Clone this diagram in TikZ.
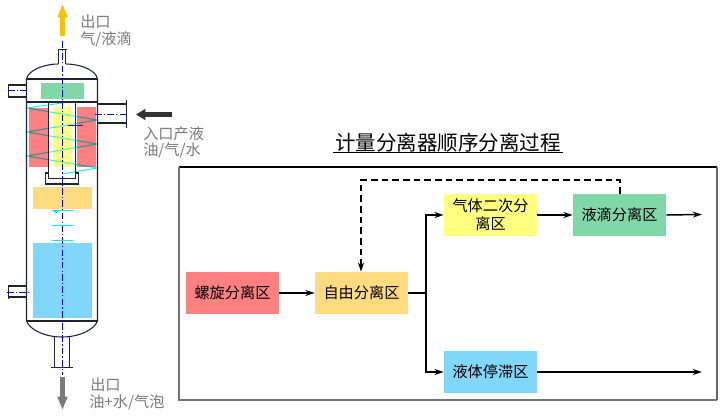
\documentclass[tikz,border=0pt]{standalone}
\usepackage{fontspec}
\setmainfont{Noto Sans CJK SC}
\usetikzlibrary{arrows.meta}
\definecolor{zred}{RGB}{255,128,128}
\definecolor{zorange}{RGB}{255,219,128}
\definecolor{zyellow}{RGB}{255,255,128}
\definecolor{zgreen}{RGB}{128,215,168}
\definecolor{zblue}{RGB}{128,215,250}
\definecolor{zwall}{RGB}{30,35,50}
\definecolor{zamber}{RGB}{255,190,0}
\definecolor{zcyan}{RGB}{0,240,250}
\definecolor{ztealgrey}{RGB}{95,130,135}
\definecolor{zlime}{RGB}{120,245,140}
\tikzset{
  zonebox/.style={minimum width=69.75pt,minimum height=31.5pt,inner sep=0pt,align=center,
    font=\fontsize{11.4pt}{13.5pt}\selectfont,text=black},
  flow/.style={line width=1.1pt,draw=black,-{Stealth[length=7pt,width=4.5pt]}},
  flowplain/.style={line width=1.2pt,draw=black},
  wall/.style={line width=0.8pt,draw=zwall},
  axis/.style={line width=0.6pt,draw=blue,dash pattern=on 5pt off 1.6pt on 1pt off 1.6pt},
  glabel/.style={anchor=west,inner sep=0pt,text=black!52,font=\fontsize{11.4pt}{12pt}\selectfont},
  spiral/.style={line width=0.65pt},
  tick/.style={line width=0.8pt,draw=zcyan},
}
\begin{document}
\begin{tikzpicture}[x=0.75pt,y=-0.75pt]
\useasboundingbox (0,0) rectangle (723,416);
% ---- vessel fills
\fill[zgreen] (41,83) rectangle (84,99);
\fill[zred] (29,108) rectangle (48,167);
\fill[zred] (77,107) rectangle (96,167);
\fill[zyellow] (53,107) rectangle (72,167);
\fill[zorange] (33,187) rectangle (92,209);
\fill[zblue] (33,243) rectangle (92,318);
% ---- spiral
\def\spiralpath{(62,103) -- (27,108) -- (97,120) -- (27,132) -- (97,144) -- (27,156) -- (97,168) -- (62,174)}
\draw[spiral,draw=zcyan] \spiralpath;
\begin{scope}
  \clip (53,107) rectangle (72,167);
  \draw[spiral,draw=zlime] \spiralpath;
\end{scope}
\begin{scope}
  \clip (29,108) rectangle (48,167) (77,107) rectangle (96,167);
  \draw[spiral,draw=ztealgrey,line width=0.85pt] \spiralpath;
\end{scope}
% ---- vessel shell
\draw[wall] (26.5,321) -- (26.5,79) .. controls (28,70) and (45,64) .. (58,64)
  (66,64) .. controls (80,64) and (96,70) .. (97.5,79) -- (97.5,321);
\draw[wall] (26.5,79) -- (97.5,79) (26.5,102) -- (97.5,102);
\draw[wall] (26.5,321) -- (97.5,321);
\draw[wall] (26.5,321) .. controls (30,330) and (45,337) .. (62,337) .. controls (79,337) and (94,330) .. (97.5,321);
% top nozzle
\draw[wall] (58.5,64) -- (58.5,49.5) (65.5,64) -- (65.5,49.5) (57.5,49.5) -- (66.5,49.5);
% upper left nozzle
\draw[wall] (26.5,85) -- (8.5,85) (26.5,97) -- (8.5,97) (8.5,84) -- (8.5,98);
% lower left nozzle
\draw[wall] (26.5,286) -- (8.5,286) (26.5,297) -- (8.5,297) (8.5,285) -- (8.5,299);
% inlet nozzle
\draw[wall] (97.5,104) -- (126.5,104) (97.5,123) -- (126.5,123) (126.5,100) -- (126.5,128.5);
% bottom nozzle
\draw[wall] (54.5,337) -- (54.5,367.5) (69.5,337) -- (69.5,367.5) (51,367.5) -- (73,367.5);
% inner tube and cup
\draw[wall] (48.5,102) -- (48.5,178.5) -- (75.5,178.5) -- (75.5,102);
\draw[wall] (48.5,173) -- (45.5,173) -- (45.5,184) -- (78.5,184) -- (78.5,173) -- (75.5,173);
% ---- axes
\draw[axis] (62,41) -- (62,375);
\draw[axis] (8,90.5) -- (29,90.5);
\draw[axis] (7,292.5) -- (29,292.5);
\draw[axis] (95,114.5) -- (126,114.5);
\draw[line width=0.7pt,draw=blue!60!red] (68,125) -- (83,125);
% ---- baffles
\draw[tick] (52,210.5) -- (73,210.5) (52,225.5) -- (73,225.5) (52,240.5) -- (73,240.5);
\fill[zcyan] (53.5,211) -- (58.5,211) -- (56,214) -- cycle;
% ---- big arrows
\draw[line width=3.9pt,draw=zamber,-{Triangle[length=10pt,width=7pt]}] (62.5,36.5) -- (62.5,4);
\draw[line width=3.6pt,draw=black!80,-{Triangle[length=7pt,width=8pt]}] (172,114.5) -- (136,114.5);
\draw[line width=3.9pt,draw=black!52,-{Triangle[length=10pt,width=7pt]}] (62.5,377) -- (62.5,410);
% ---- vessel labels
\node[glabel] (l1) at (80,22) {出口};
\node[glabel] (l2) at (80,39) {气/液滴};
\node[glabel] (l3) at (143,134) {入口产液};
\node[glabel] (l4) at (143,150) {油/气/水};
\node[glabel] (l5) at (90,385) {出口};
\node[glabel] (l6) at (89,402) {油+水/气泡};
% ---- title
\node[inner sep=0pt,font=\fontsize{15.4pt}{18pt}\selectfont,text=black] (title) at (448,143) {计量分离器顺序分离过程};
\draw[line width=0.9pt,draw=black] (333,152.5) -- (563,152.5);
% ---- frame
\draw[line width=1pt,draw=black] (179,167) -- (717,167);
\draw[line width=1.5pt,draw=black!55] (179,167) -- (179,399.5) -- (717,399.5);
\draw[line width=0.8pt,draw=black!60] (717,167) -- (717,399.5);
% ---- flow boxes
\node[zonebox,fill=zred] (spiralz) at (232.5,293) {螺旋分离区};
\node[zonebox,fill=zorange] (free) at (361.5,293) {自由分离区};
\node[zonebox,fill=zyellow] (gas) at (490.5,215) {气体二次分\\离区};
\node[zonebox,fill=zgreen] (drop) at (619.5,215) {液滴分离区};
\node[zonebox,fill=zblue] (liq) at (490.5,372) {液体停滞区};
\coordinate (trunk) at (426,293);
\coordinate (out1) at (702,214.5);
\coordinate (out2) at (702,372);
\coordinate (corner1) at (620,180);
\coordinate (corner2) at (361,180);
% ---- connectors
\draw[flow] (spiralz) -- (free);
\draw[flowplain] (free) -- (trunk);
\draw[flow] (trunk) |- (gas.west);
\draw[flow] (trunk) |- (liq.west);
\draw[flow] (gas) -- (drop);
\draw[flow] (drop.east) -- (out1);
\draw[flow] (liq) -- (out2);
\draw[line width=1.1pt,draw=black,dash pattern=on 5pt off 3pt,-{Stealth[length=7pt,width=4.5pt]}]
  (drop.north -| corner1) -- (corner1) -- (corner2) -- (corner2 |- free.north);
\end{tikzpicture}
\end{document}
